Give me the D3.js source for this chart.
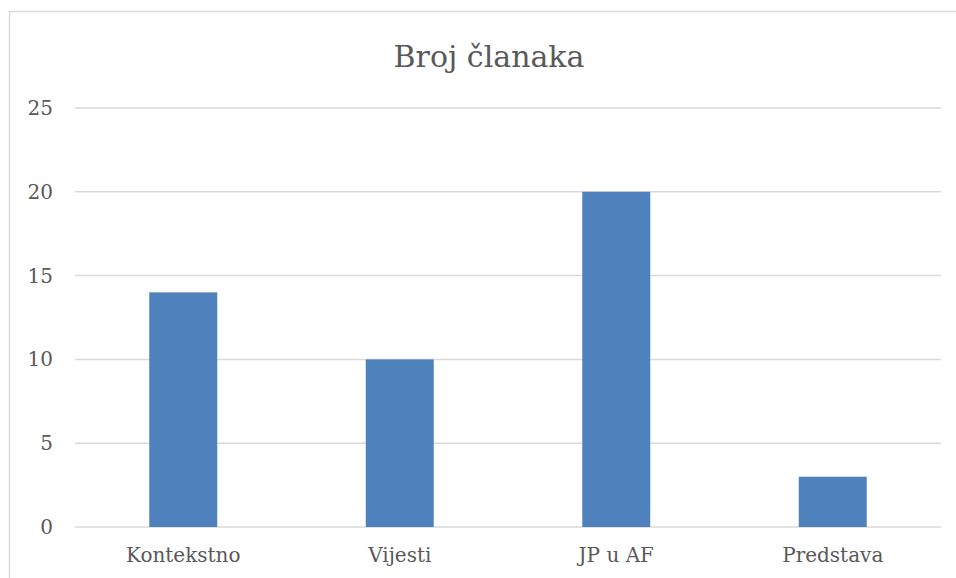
<!DOCTYPE html>
<html>
<head>
<meta charset="utf-8">
<script src="https://cdn.jsdelivr.net/npm/d3@7"></script>
<style>
  body { margin: 0; background: #fff; }
  text { font-family: "DejaVu Serif", serif; fill: #595959; }
</style>
</head>
<body>
<div class="svg_area"></div>
<script>
// chart data
var categories = ["Kontekstno", "Vijesti", "JP u AF", "Predstava"];
var counts = [14, 10, 20, 3];
var yTicks = [0, 5, 10, 15, 20, 25];
var title = "Broj članaka";

var svgWidth = 956;
var svgHeight = 578;

var margin = { top: 108, right: 15, bottom: 51, left: 75 };
var chartWidth = svgWidth - margin.left - margin.right;
var chartHeight = svgHeight - margin.top - margin.bottom;

var svg = d3.select(".svg_area")
  .append("svg")
  .attr("width", svgWidth)
  .attr("height", svgHeight);

// outer border of the chart box
svg.append("path")
  .attr("d", "M9.5,578 V11.5 H956")
  .attr("fill", "none")
  .attr("stroke", "#d9d9d9")
  .attr("stroke-width", 1.5);

var chartGroup = svg.append("g")
  .attr("transform", `translate(${margin.left}, ${margin.top})`);

var xScale = d3.scaleBand()
  .domain(categories)
  .range([0, chartWidth])
  .paddingInner(0.686)
  .paddingOuter(0.343);

var yScale = d3.scaleLinear()
  .domain([0, 25])
  .range([chartHeight, 0]);

// gridlines
chartGroup.append("g")
  .selectAll("line")
  .data(yTicks)
  .enter()
  .append("line")
  .attr("x1", 0)
  .attr("x2", chartWidth)
  .attr("y1", d => yScale(d))
  .attr("y2", d => yScale(d))
  .attr("stroke", "#d9d9d9")
  .attr("stroke-width", 1.5);

// y axis labels
var leftAxis = d3.axisLeft(yScale).tickValues(yTicks).tickSize(0).tickPadding(22);
var yAxis = chartGroup.append("g").call(leftAxis);
yAxis.select(".domain").remove();
yAxis.selectAll("text")
  .style("font-size", "20px")
  .attr("fill", "#595959");

// bars
chartGroup.selectAll("rect")
  .data(counts)
  .enter()
  .append("rect")
  .attr("x", (d, i) => xScale(categories[i]))
  .attr("y", d => yScale(d))
  .attr("width", xScale.bandwidth())
  .attr("height", d => chartHeight - yScale(d))
  .attr("fill", "#4f81bd");

// x axis labels
var bottomAxis = d3.axisBottom(xScale).tickSize(0).tickPadding(21);
var xAxis = chartGroup.append("g")
  .attr("transform", `translate(0, ${chartHeight})`)
  .call(bottomAxis);
xAxis.select(".domain").remove();
xAxis.selectAll("text")
  .style("font-size", "20px")
  .attr("fill", "#595959");

// title
svg.append("text")
  .attr("x", 489)
  .attr("y", 67)
  .attr("text-anchor", "middle")
  .style("font-size", "30px")
  .text(title);
</script>
</body>
</html>
